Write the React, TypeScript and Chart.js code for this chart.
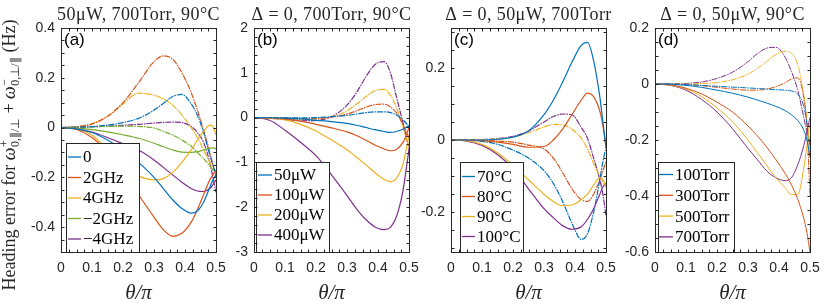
import React, { useEffect, useRef } from "react";
import { Chart, registerables } from "chart.js";
Chart.register(...registerables);

// ---------- data ----------
const THETA = [0, 0.05, 0.1, 0.15, 0.2, 0.25, 0.3, 0.33, 0.36, 0.39, 0.42, 0.44, 0.46, 0.48, 0.49, 0.5];
const X_TICKS = [0, 0.1, 0.2, 0.3, 0.4, 0.5];

// (a) detuning
const A_LABELS = ["0", "2GHz", "4GHz", "\u22122GHz", "\u22124GHz"];
const A_Y_TICKS = [-0.4, -0.2, 0, 0.2, 0.4];
const A_S_0 = [0, -0.005, -0.02, -0.05, -0.09, -0.14, -0.2, -0.245, -0.29, -0.325, -0.344, -0.335, -0.3, -0.24, -0.21, -0.19];
const A_D_0 = [0, 0.001, 0.004, 0.01, 0.02, 0.037, 0.07, 0.097, 0.125, 0.133, 0.095, 0.05, -0.02, -0.11, -0.15, -0.19];
const A_S_2 = [0, -0.008, -0.04, -0.1, -0.18, -0.27, -0.36, -0.41, -0.437, -0.425, -0.38, -0.33, -0.27, -0.21, -0.19, -0.17];
const A_D_2 = [0, 0.003, 0.015, 0.045, 0.1, 0.18, 0.265, 0.288, 0.275, 0.22, 0.14, 0.07, -0.01, -0.1, -0.15, -0.2];
const A_S_4 = [0, -0.005, -0.03, -0.09, -0.16, -0.195, -0.21, -0.205, -0.18, -0.14, -0.09, -0.05, -0.015, 0.01, 0.005, -0.03];
const A_D_4 = [0, 0.003, 0.015, 0.045, 0.095, 0.138, 0.13, 0.115, 0.09, 0.05, 0.0, -0.04, -0.09, -0.14, -0.16, -0.18];
const A_S_M2 = [0, -0.002, -0.008, -0.017, -0.029, -0.043, -0.063, -0.077, -0.09, -0.099, -0.1, -0.097, -0.09, -0.083, -0.082, -0.085];
const A_D_M2 = [0, 0.001, 0.003, 0.005, 0.006, 0.005, -0.002, -0.015, -0.03, -0.05, -0.075, -0.1, -0.125, -0.155, -0.17, -0.18];
const A_S_M4 = [0, -0.004, -0.018, -0.04, -0.065, -0.09, -0.13, -0.16, -0.19, -0.22, -0.245, -0.255, -0.257, -0.245, -0.23, -0.21];
const A_D_M4 = [0, 0.001, 0.003, 0.006, 0.009, 0.013, 0.018, 0.021, 0.022, 0.02, 0.005, -0.02, -0.06, -0.14, -0.2, -0.26];

// (b) pump power
const B_LABELS = ["50\u03bcW", "100\u03bcW", "200\u03bcW", "400\u03bcW"];
const B_Y_TICKS = [-3, -2, -1, 0, 1, 2];
const B_S_50 = [0, -0.003, -0.012, -0.03, -0.06, -0.09, -0.13, -0.17, -0.22, -0.27, -0.31, -0.33, -0.31, -0.26, -0.22, -0.18];
const B_D_50 = [0, -0.002, -0.005, -0.008, 0.0, 0.02, 0.05, 0.08, 0.11, 0.13, 0.13, 0.11, 0.06, -0.05, -0.12, -0.2];
const B_S_100 = [0, -0.005, -0.03, -0.08, -0.15, -0.23, -0.32, -0.4, -0.5, -0.61, -0.7, -0.74, -0.71, -0.56, -0.42, -0.22];
const B_D_100 = [0, -0.003, -0.01, -0.02, -0.015, 0.01, 0.08, 0.15, 0.23, 0.29, 0.3, 0.24, 0.1, -0.15, -0.3, -0.45];
const B_S_200 = [0, -0.01, -0.05, -0.15, -0.3, -0.5, -0.72, -0.88, -1.05, -1.23, -1.38, -1.43, -1.35, -1.05, -0.75, -0.4];
const B_D_200 = [0, -0.005, -0.02, -0.04, -0.03, 0.02, 0.15, 0.3, 0.46, 0.6, 0.63, 0.5, 0.22, -0.2, -0.45, -0.65];
const B_S_400 = [0, -0.06, -0.28, -0.55, -0.85, -1.28, -1.74, -2.03, -2.27, -2.44, -2.5, -2.45, -2.2, -1.65, -1.2, -0.7];
const B_D_400 = [0, -0.01, -0.04, -0.07, -0.06, 0.02, 0.28, 0.55, 0.9, 1.18, 1.25, 1.0, 0.45, -0.1, -0.4, -0.7];

// (c) temperature
const C_LABELS = ["70\u00b0C", "80\u00b0C", "90\u00b0C", "100\u00b0C"];
const C_Y_TICKS = [-0.2, 0, 0.2];
const C_S_70 = [0, 0, 0, 0.002, 0.008, 0.025, 0.07, 0.11, 0.16, 0.215, 0.262, 0.27, 0.22, 0.12, 0.05, -0.02];
const C_D_70 = [0, -0.001, -0.004, -0.012, -0.028, -0.05, -0.085, -0.12, -0.17, -0.23, -0.275, -0.26, -0.2, -0.11, -0.06, -0.02];
const C_S_80 = [0, 0, -0.002, -0.006, -0.012, -0.02, -0.018, 0.0, 0.03, 0.07, 0.11, 0.13, 0.12, 0.08, 0.04, -0.02];
const C_D_80 = [0, 0, -0.001, -0.003, -0.006, -0.014, -0.025, -0.05, -0.09, -0.135, -0.165, -0.17, -0.15, -0.11, -0.085, -0.06];
const C_S_90 = [0, -0.002, -0.012, -0.035, -0.07, -0.11, -0.15, -0.17, -0.182, -0.18, -0.165, -0.15, -0.125, -0.105, -0.11, -0.13];
const C_D_90 = [0, 0, 0.001, 0.003, 0.008, 0.02, 0.036, 0.043, 0.042, 0.03, 0.005, -0.025, -0.065, -0.1, -0.115, -0.13];
const C_S_100 = [0, -0.003, -0.015, -0.04, -0.08, -0.135, -0.19, -0.215, -0.237, -0.247, -0.24, -0.22, -0.19, -0.15, -0.13, -0.12];
const C_D_100 = [0, 0, 0.001, 0.004, 0.01, 0.025, 0.05, 0.065, 0.072, 0.07, 0.035, 0.005, -0.05, -0.11, -0.15, -0.21];

// (d) pressure
const D_LABELS = ["100Torr", "300Torr", "500Torr", "700Torr"];
const D_Y_TICKS = [-0.6, -0.4, -0.2, 0, 0.2];
const D_S_100 = [0, -0.001, -0.005, -0.012, -0.022, -0.033, -0.047, -0.057, -0.068, -0.08, -0.095, -0.11, -0.13, -0.165, -0.2, -0.26];
const D_D_100 = [0, 0, -0.002, -0.005, -0.008, -0.011, -0.014, -0.016, -0.018, -0.02, -0.022, -0.025, -0.035, -0.08, -0.14, -0.22];
const D_S_300 = [0, -0.003, -0.015, -0.035, -0.065, -0.1, -0.15, -0.185, -0.225, -0.27, -0.32, -0.36, -0.41, -0.48, -0.53, -0.6];
const D_D_300 = [0, 0, -0.002, -0.006, -0.012, -0.018, -0.022, -0.022, -0.018, -0.01, 0.005, 0.018, 0.022, -0.05, -0.15, -0.4];
const D_S_500 = [0, -0.004, -0.018, -0.045, -0.085, -0.135, -0.2, -0.245, -0.29, -0.335, -0.37, -0.395, -0.395, -0.3, -0.22, -0.13];
const D_D_500 = [0, 0, 0, 0.002, 0.005, 0.015, 0.035, 0.055, 0.08, 0.105, 0.117, 0.11, 0.07, -0.04, -0.13, -0.25];
const D_S_700 = [0, -0.005, -0.022, -0.055, -0.1, -0.16, -0.23, -0.27, -0.31, -0.335, -0.345, -0.335, -0.29, -0.22, -0.17, -0.12];
const D_D_700 = [0, 0, 0.002, 0.007, 0.02, 0.042, 0.08, 0.108, 0.128, 0.131, 0.095, 0.045, -0.02, -0.12, -0.17, -0.22];

// ---------- styles ----------
const BLUE = "#0072BD";
const ORANGE = "#D95319";
const YELLOW = "#EDB120";
const PURPLE = "#7E2F8E";
const GREEN = "#77AC30";
const AXIS = "#262626";
const W = 831;
const H = 308;
const TOP = 28;
const BOTTOM = 252;

type Legend = { x: number; y: number; w: number; h: number; row0: number; rowH: number; lx0: number; lx1: number; tx: number };
type Panel = {
  title: string;
  letter: string;
  left: number;
  right: number;
  yMin: number;
  yMax: number;
  yTicks: number[];
  yMinor: number;
  labels: string[];
  colors: string[];
  solid: number[][];
  dashed: number[][];
  legend: Legend;
  lw: number;
  yTitle?: boolean;
};

const PANELS: Panel[] = [
  {
    title: "50\u03bcW, 700Torr, 90\u00b0C",
    letter: "(a)",
    left: 61, right: 216,
    yMin: -0.5, yMax: 0.4, yTicks: A_Y_TICKS, yMinor: 0.05,
    labels: A_LABELS,
    colors: [BLUE, ORANGE, YELLOW, GREEN, PURPLE],
    solid: [A_S_0, A_S_2, A_S_4, A_S_M2, A_S_M4],
    dashed: [A_D_0, A_D_2, A_D_4, A_D_M2, A_D_M4],
    legend: { x: 66, y: 143, w: 73, h: 109, row0: 157, rowH: 20.5, lx0: 68, lx1: 81, tx: 83 },
    lw: 1.2,
    yTitle: true,
  },
  {
    title: "\u0394 = 0, 700Torr, 90\u00b0C",
    letter: "(b)",
    left: 254, right: 409,
    yMin: -3, yMax: 2, yTicks: B_Y_TICKS, yMinor: 0.2,
    labels: B_LABELS,
    colors: [BLUE, ORANGE, YELLOW, PURPLE],
    solid: [B_S_50, B_S_100, B_S_200, B_S_400],
    dashed: [B_D_50, B_D_100, B_D_200, B_D_400],
    legend: { x: 256, y: 162, w: 73, h: 90, row0: 175, rowH: 20, lx0: 258, lx1: 272, tx: 274 },
    lw: 1.2,
  },
  {
    title: "\u0394 = 0, 50\u03bcW, 700Torr",
    letter: "(c)",
    left: 451, right: 606,
    yMin: -0.31, yMax: 0.31, yTicks: C_Y_TICKS, yMinor: 0.05,
    labels: C_LABELS,
    colors: [BLUE, ORANGE, YELLOW, PURPLE],
    solid: [C_S_70, C_S_80, C_S_90, C_S_100],
    dashed: [C_D_70, C_D_80, C_D_90, C_D_100],
    legend: { x: 460, y: 162, w: 63, h: 90, row0: 176.5, rowH: 20, lx0: 462, lx1: 475, tx: 477 },
    lw: 1.2,
  },
  {
    title: "\u0394 = 0, 50\u03bcW, 90\u00b0C",
    letter: "(d)",
    left: 655, right: 810,
    yMin: -0.6, yMax: 0.2, yTicks: D_Y_TICKS, yMinor: 0.05,
    labels: D_LABELS,
    colors: [BLUE, ORANGE, YELLOW, PURPLE],
    solid: [D_S_100, D_S_300, D_S_500, D_S_700],
    dashed: [D_D_100, D_D_300, D_D_500, D_D_700],
    legend: { x: 658, y: 162, w: 76, h: 90, row0: 174.5, rowH: 20.8, lx0: 659, lx1: 673, tx: 675 },
    lw: 1.0,
  },
];

const fmt = (v: number) => (Math.abs(v) < 1e-9 ? "0" : String(Number(v.toFixed(2))));

function drawYTitle(ctx: CanvasRenderingContext2D, cx: number, cy: number) {
  const base = '18px "Liberation Serif"';
  const ital = 'italic 18px "Liberation Serif"';
  const small = '12px "Liberation Serif"';
  type Run = { t?: string; f?: string; sup?: string; sub?: string };
  const runs: Run[] = [
    { t: "Heading error for ", f: base },
    { t: "\u03c9", f: ital },
    { sup: "+", sub: "0,\u2225/\u22a5" },
    { t: " + ", f: base },
    { t: "\u03c9", f: ital },
    { sup: "\u2212", sub: "0,\u22a5/\u2225" },
    { t: " (Hz)", f: base },
  ];
  const widths = runs.map((r) => {
    if (r.t) {
      ctx.font = r.f!;
      return ctx.measureText(r.t).width;
    }
    ctx.font = small;
    return Math.max(ctx.measureText(r.sup!).width, ctx.measureText(r.sub!).width) + 1;
  });
  const total = widths.reduce((a, b) => a + b, 0);
  ctx.save();
  ctx.translate(cx, cy);
  ctx.rotate(-Math.PI / 2);
  ctx.fillStyle = AXIS;
  ctx.textBaseline = "alphabetic";
  ctx.textAlign = "left";
  let x = -total / 2;
  runs.forEach((r, i) => {
    if (r.t) {
      ctx.font = r.f!;
      ctx.fillText(r.t, x, 0);
    } else {
      ctx.font = small;
      ctx.fillText(r.sup!, x + 0.5, -7);
      ctx.fillText(r.sub!, x + 0.5, 4);
    }
    x += widths[i];
  });
  ctx.restore();
}

function makeDeco(p: Panel) {
  return {
    id: "deco" + p.letter,
    afterDraw(chart: any) {
      const { ctx, chartArea: ca, scales } = chart;
      const xs = scales.x;
      const ys = scales.y;
      ctx.save();
      // legend
      const L = p.legend;
      ctx.fillStyle = "#ffffff";
      ctx.fillRect(L.x, L.y, L.w, L.h);
      ctx.strokeStyle = AXIS;
      ctx.lineWidth = 1;
      ctx.strokeRect(L.x + 0.5, L.y + 0.5, L.w, L.h);
      ctx.font = '17px "Liberation Serif"';
      ctx.textBaseline = "middle";
      ctx.textAlign = "left";
      p.labels.forEach((lab, i) => {
        const yy = L.row0 + i * L.rowH;
        ctx.strokeStyle = p.colors[i];
        ctx.lineWidth = 1.3;
        ctx.beginPath();
        ctx.moveTo(L.lx0, yy);
        ctx.lineTo(L.lx1, yy);
        ctx.stroke();
        ctx.fillStyle = "#000000";
        ctx.fillText(lab, L.tx, yy + 1);
      });
      // frame
      ctx.strokeStyle = AXIS;
      ctx.lineWidth = 1;
      const l = Math.round(ca.left) + 0.5;
      const t = Math.round(ca.top) + 0.5;
      const r = Math.round(ca.right) + 0.5;
      const b = Math.round(ca.bottom) + 0.5;
      ctx.strokeRect(l, t, r - l, b - t);
      // inward ticks
      ctx.beginPath();
      for (let k = 0; k <= 20; k++) {
        const v = k * 0.025;
        const px = Math.round(xs.getPixelForValue(v)) + 0.5;
        ctx.moveTo(px, b);
        ctx.lineTo(px, b - 3);
        ctx.moveTo(px, t);
        ctx.lineTo(px, t + 3);
      }
      const n0 = Math.ceil(p.yMin / p.yMinor - 1e-6);
      const n1 = Math.floor(p.yMax / p.yMinor + 1e-6);
      for (let k = n0; k <= n1; k++) {
        const v = k * p.yMinor;
        const py = Math.round(ys.getPixelForValue(v)) + 0.5;
        ctx.moveTo(l, py);
        ctx.lineTo(l + 3, py);
        ctx.moveTo(r, py);
        ctx.lineTo(r - 3, py);
      }
      ctx.stroke();
      // panel letter
      ctx.fillStyle = "#000000";
      ctx.font = '17px "Liberation Sans"';
      ctx.textBaseline = "top";
      ctx.textAlign = "left";
      ctx.fillText(p.letter, ca.left + 3, ca.top + 4);
      // title
      ctx.font = '18px "Liberation Serif"';
      (ctx as any).letterSpacing = "0.4px";
      ctx.textAlign = "center";
      ctx.textBaseline = "alphabetic";
      ctx.fillStyle = AXIS;
      ctx.fillText(p.title, (ca.left + ca.right) / 2, 20);
      (ctx as any).letterSpacing = "0px";
      // x title
      ctx.font = 'italic 21px "Liberation Serif"';
      ctx.fillText("\u03b8/\u03c0", (ca.left + ca.right) / 2, 299);
      if (p.yTitle) drawYTitle(ctx, 15, 155);
      ctx.restore();
    },
  };
}

function PanelChart({ p }: { p: Panel }) {
  const ref = useRef<HTMLCanvasElement>(null);
  useEffect(() => {
    const datasets: any[] = [];
    p.solid.forEach((vals, i) => {
      datasets.push({
        data: THETA.map((x, j) => ({ x, y: vals[j] })),
        borderColor: p.colors[i],
        borderWidth: p.lw,
        pointRadius: 0,
        cubicInterpolationMode: "monotone",
        fill: false,
      });
    });
    p.dashed.forEach((vals, i) => {
      datasets.push({
        data: THETA.map((x, j) => ({ x, y: vals[j] })),
        borderColor: p.colors[i],
        borderWidth: p.lw,
        borderDash: [6, 1, 1.5, 1],
        pointRadius: 0,
        cubicInterpolationMode: "monotone",
        fill: false,
      });
    });
    const chart = new Chart(ref.current!, {
      type: "line",
      data: { datasets },
      options: {
        animation: false,
        responsive: false,
        devicePixelRatio: 1,
        events: [],
        layout: { padding: { left: 0, right: W - p.right, top: TOP, bottom: 0 } },
        plugins: { legend: { display: false }, tooltip: { enabled: false }, title: { display: false } },
        scales: {
          x: {
            type: "linear",
            min: 0,
            max: 0.5,
            grid: { display: false, drawTicks: false },
            border: { display: false },
            afterFit: (s: any) => {
              s.height = H - BOTTOM;
            },
            afterBuildTicks: (s: any) => {
              s.ticks = X_TICKS.map((v) => ({ value: v }));
            },
            ticks: {
              padding: 8,
              autoSkip: false,
              maxRotation: 0,
              color: AXIS,
              font: { family: "Liberation Sans", size: 14 },
              callback: (v: any) => fmt(Number(v)),
            },
          },
          y: {
            type: "linear",
            min: p.yMin,
            max: p.yMax,
            grid: { display: false, drawTicks: false },
            border: { display: false },
            afterFit: (s: any) => {
              s.width = p.left;
            },
            afterBuildTicks: (s: any) => {
              s.ticks = p.yTicks.map((v) => ({ value: v }));
            },
            ticks: {
              padding: 6,
              autoSkip: false,
              color: AXIS,
              font: { family: "Liberation Sans", size: 14 },
              callback: (v: any) => fmt(Number(v)),
            },
          },
        },
      } as any,
      plugins: [makeDeco(p)],
    });
    return () => chart.destroy();
  }, [p]);
  return (
    <canvas
      ref={ref}
      width={W}
      height={H}
      style={{ position: "absolute", left: 0, top: 0, width: W, height: H }}
    />
  );
}

export default function App() {
  return (
    <div style={{ position: "absolute", left: 0, top: 0, width: W, height: H, background: "#ffffff" }}>
      {PANELS.map((p) => (
        <PanelChart key={p.letter} p={p} />
      ))}
    </div>
  );
}
